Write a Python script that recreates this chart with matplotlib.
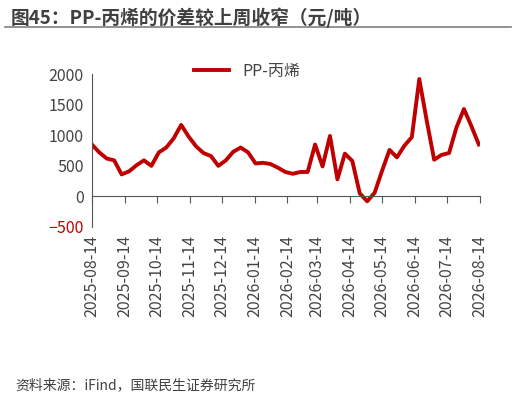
import pandas as pd
import matplotlib.pyplot as plt
import matplotlib.dates as mdates
from matplotlib.lines import Line2D

plt.rcParams['font.family'] = ['Noto Sans CJK SC', 'DejaVu Sans']

title = "图45：PP-丙烯的价差较上周收窄（元/吨）"
source = "资料来源：iFind，国联民生证券研究所"
series_name = "PP-丙烯"
dates = pd.date_range("2025-08-14", periods=53, freq="7D")
values = [850, 720, 620, 590, 360, 410, 510, 590, 500, 720, 800, 950, 1170,
          980, 820, 710, 660, 500, 590, 730, 800, 720, 540, 550, 530, 470,
          400, 370, 400, 400, 850, 490, 990, 280, 700, 580, 50, -80, 60,
          420, 760, 640, 830, 970, 1920, 1240, 600, 680, 710, 1130, 1430,
          1150, 850]
tick_dates = pd.date_range("2025-08-01", periods=13, freq="MS") + pd.Timedelta(days=13)
yticks = [-500, 0, 500, 1000, 1500, 2000]

fig = plt.figure(figsize=(5.16, 4.01), dpi=100)
ax = fig.add_axes([0.178, 0.434, 0.752, 0.381])
ax.plot(dates, values, color="#C00000", lw=2.8, label=series_name)
ax.set_ylim(-500, 2000)
ax.set_xlim(tick_dates[0], tick_dates[-1])
ax.set_yticks(yticks)
for lab in ax.get_yticklabels():
    lab.set_color("#C00000" if lab.get_text().startswith(("-", "−")) else "#444444")
ax.tick_params(axis="y", length=0, labelsize=11.5, pad=6)
for s in ["top", "right"]:
    ax.spines[s].set_visible(False)
ax.spines["left"].set_color("#555555")
ax.spines["bottom"].set_position(("data", 0))
ax.spines["bottom"].set_color("#555555")
ax.set_xticks(tick_dates)
ax.tick_params(axis="x", direction="out", length=5, color="#555555", labelbottom=False)

sec = ax.secondary_xaxis("bottom")
sec.set_xticks(tick_dates)
sec.xaxis.set_major_formatter(mdates.DateFormatter("%Y-%m-%d"))
sec.spines["bottom"].set_visible(False)
sec.tick_params(axis="x", length=0, labelsize=11.5, labelcolor="#444444", rotation=90, pad=6)

ax.legend(loc="upper center", bbox_to_anchor=(0.4, 1.17), frameon=False, fontsize=11.5,
          handlelength=2.2, labelcolor="#444444")

fig.text(0.02, 0.955, title, fontsize=13.5, fontweight="bold", color="#404040", va="center")
fig.add_artist(Line2D([0.01, 0.99], [0.932, 0.932], color="#808080", lw=1.2))
fig.text(0.03, 0.04, source, fontsize=10, color="#404040", va="center")
fig.savefig("out.png", dpi=100)
